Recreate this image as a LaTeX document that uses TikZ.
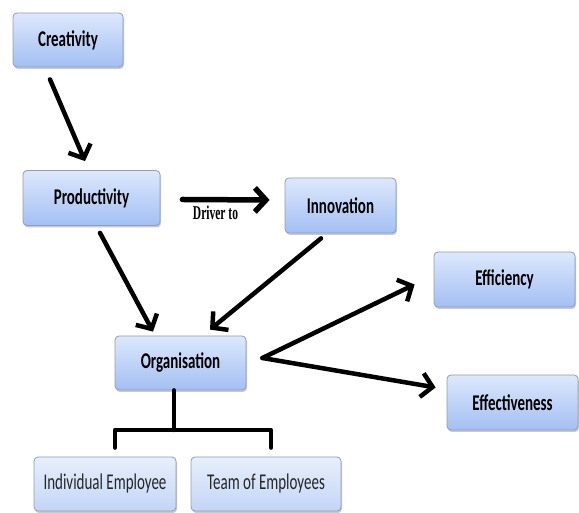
\documentclass[tikz,border=0pt]{standalone}
\usepackage{fontspec}
\usepackage{graphicx}
\setmainfont{Carlito}
\newfontfamily\drvfont{Liberation Serif}
\usetikzlibrary{arrows.meta,shadows}
\definecolor{btop}{HTML}{DDE8FC}
\definecolor{bbot}{HTML}{A3BFF3}
\definecolor{ltop}{HTML}{E8EFFC}
\definecolor{lbot}{HTML}{C3D5F6}
\definecolor{bedge}{HTML}{8E9DB8}
\newcommand\tallt[1]{\scalebox{1}[1.5]{#1}}
\begin{document}
\begin{tikzpicture}[x=1pt,y=1pt,
  box/.style={draw=bedge, line width=0.8pt, rounded corners=4pt,
    top color=btop, bottom color=bbot,
    drop shadow={shadow xshift=1pt,shadow yshift=-2pt,opacity=0.35,fill=black!60},
    inner sep=0pt, font=\fontsize{15}{15}\selectfont\bfseries},
  lbox/.style={box, top color=ltop, bottom color=lbot, font=\fontsize{15}{15}\selectfont, text=black!85},
  conn/.style={line width=4.5pt, line cap=round, line join=round},
  arr/.style={conn, -{Straight Barb[length=11pt,width=24pt]}},
  lbl/.style={font=\drvfont\fontsize{11.5}{11.5}\selectfont\bfseries, inner sep=0pt}]
\useasboundingbox (0,0) rectangle (579,513);
\node[box, minimum width=110pt, minimum height=54pt] (creat) at (68,473) {\tallt{Creativity}};
\node[box, minimum width=137pt, minimum height=55pt] (prod) at (91.5,315) {\tallt{Productivity}};
\node[box, minimum width=111pt, minimum height=55pt] (innov) at (340.5,307.5) {\tallt{Innovation}};
\node[box, minimum width=141pt, minimum height=55pt] (effic) at (504.5,233.5) {\tallt{Efficiency}};
\node[box, minimum width=131pt, minimum height=54pt] (org) at (180.5,150) {\tallt{Organisation}};
\node[box, minimum width=131pt, minimum height=55pt] (effect) at (512.5,110.5) {\tallt{Effectiveness}};
\node[lbox, minimum width=142pt, minimum height=54pt] (ind) at (105,29) {\tallt{Individual Employee}};
\node[lbox, minimum width=150pt, minimum height=54pt] (team) at (266,29) {\tallt{Team of Employees}};
\node[lbl] (drv) at (215.5,300) {\scalebox{1}[1.7]{Driver to}};

\draw[arr] ([xshift=-18pt,yshift=-12pt]creat.south) -- ([xshift=-6.5pt,yshift=9pt]prod.north);
\draw[arr, line width=5.5pt] ([xshift=22pt,yshift=-1.5pt]prod.east) -- ([xshift=-15pt,yshift=5.5pt]innov.west);
\draw[arr] ([xshift=8.5pt,yshift=-7pt]prod.south) -- ([xshift=-27.5pt,yshift=4pt]org.north);
\draw[arr] ([xshift=-19.5pt,yshift=-5pt]innov.south) -- ([xshift=29.5pt,yshift=6pt]org.north);
\draw[arr] ([xshift=16pt,yshift=5pt]org.east) -- ([xshift=-19pt,yshift=-5pt]effic.west);
\draw[arr] ([xshift=16pt,yshift=5pt]org.east) -- ([xshift=-11pt,yshift=15pt]effect.west);

\coordinate (j) at (174,83);
\draw[conn] ([xshift=-6.5pt]org.south) -- (j);
\draw[conn] ([xshift=10pt,yshift=9pt]ind.north) |- (j) -| ([xshift=5pt,yshift=9pt]team.north);
\end{tikzpicture}
\end{document}
